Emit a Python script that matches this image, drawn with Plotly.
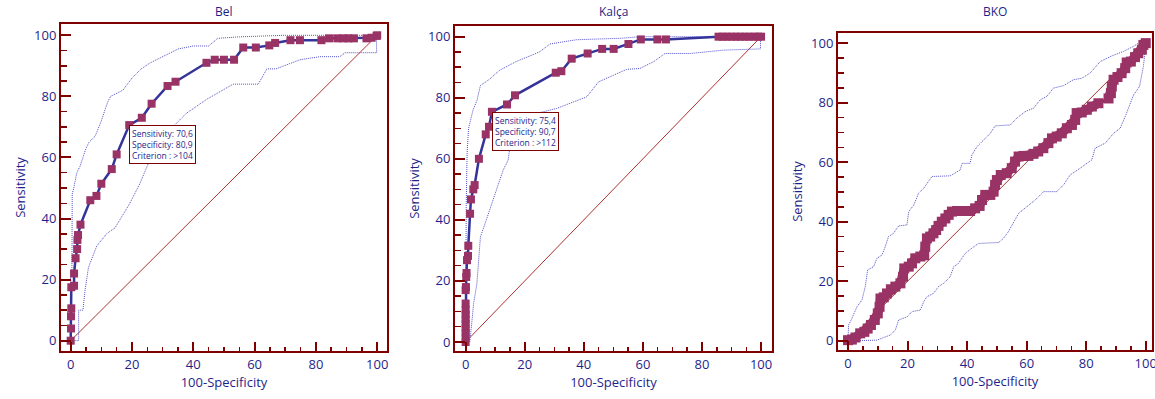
import plotly.graph_objects as go

# ---------------- data ----------------
titles = ["Bel", "Kalça", "BKO"]
diag_x = [0, 100]
diag_y = [0, 100]

bel_fpr = [0, 0.1, 0.1, 0.2, 0.2, 1.1, 1.1, 1.6, 2.1, 2.2, 2.4, 3.2, 6.4, 8.4, 10, 13.4, 15, 19.1,
           23.2, 26.4, 31.6, 34.2, 44.3, 47, 50, 53.3, 56.3, 60.4, 64.8, 66.7, 71.7, 74.8, 81.8,
           84.3, 87, 89, 90.6, 92.4, 96.5, 98.2, 99.8, 100]
bel_tpr = [0, 4, 8, 10.6, 17.5, 18, 22, 27, 30, 33, 34.6, 38, 46, 47.4, 51.4, 56.2, 61, 70.6,
           73, 77.6, 83.4, 84.8, 91, 92, 92, 92, 96, 96, 96.7, 97.5, 98.4, 98.4, 98.4,
           99, 99, 99, 99, 99, 99, 99.2, 99.8, 100]
bel_up_x = [0, 0, 0.4, 0.5, 1, 2, 3, 4, 5, 6, 8, 10, 12, 13, 15, 17, 20, 23, 26, 30, 35, 40, 45,
            48, 55, 70, 100]
bel_up_y = [0, 23, 23, 48, 50, 55, 57, 60, 63, 65, 67, 72, 78, 80, 81, 82, 86, 89, 91, 93, 95.5,
            96.5, 96.5, 99, 99.5, 100, 100]
bel_lo_x = [0, 2.6, 2.6, 4, 4.7, 5.8, 8.5, 11.7, 14.5, 19.3, 22.6, 25.3, 28, 31.3, 37.8, 44.3, 53,
            61.2, 64, 67, 74.8, 81.3, 87.8, 89.5, 99.8, 99.8, 100]
bel_lo_y = [0, 0, 10, 10, 16.6, 24, 31, 35, 37, 45, 51.5, 58, 63.5, 68, 74.5, 79, 84,
            84, 89, 89, 92, 93, 93, 94.3, 94.3, 100, 100]
bel_box = (19.1, 70.6, "Sensitivity: 70,6<br>Specificity: 80,9<br>Criterion : >104")

kal_fpr = [0, 0, 0, 0, 0, 0, 0, 0, 0, 0, 0.1, 0.2, 0.3, 0.45, 0.8, 0.9, 1.5, 1.8, 2.6, 3.05, 4.5,
           6.8, 7.9, 8.9, 14, 16.7, 30.5, 32.4, 35.9, 41.3, 46.2, 50.1, 55.1, 59.3, 64.9, 67.8,
           85.6, 87, 88.5, 90, 91.5, 93, 94.5, 96, 97.5, 99, 100]
kal_tpr = [0, 1.5, 3, 4.5, 6, 7.5, 9, 10.5, 12.6, 17, 18, 21.3, 22.6, 26.8, 28.2, 31.5, 42, 46.7,
           50, 51.4, 60, 68, 70.5, 75.4, 77.8, 80.8, 88.2, 88.7, 92.8, 94.5, 96, 96, 97.6,
           99.1, 99.1, 99.1, 100, 100, 100, 100, 100, 100, 100, 100, 100, 100, 100]
kal_up_x = [0, 0, 0.2, 0.5, 1, 2.5, 3.8, 5, 8, 11.5, 17, 25, 28.5, 37.5, 53, 59, 100]
kal_up_y = [0, 20, 45, 62, 70, 76, 79, 84, 86, 89, 91.8, 95, 97.6, 99, 99.5, 100, 100]
kal_lo_x = [0, 1.4, 2, 2.7, 3.8, 5, 7, 10.4, 12.7, 14.4, 15, 17, 19.5, 30.8, 36.4, 41, 45, 50, 54.5,
            59, 63.6, 67.5, 76, 87.3, 99.8, 99.8, 100]
kal_lo_y = [0, 0, 5.5, 12.6, 19, 34.4, 40, 49.7, 56.3, 59.6, 64, 70, 73.8, 76.5, 78.7, 80.3, 85.2,
            87.4, 89.3, 89.6, 91.8, 94.5, 94.5, 95.6, 96, 100, 100]
kal_box = (8.9, 75.4, "Sensitivity: 75,4<br>Specificity: 90,7<br>Criterion : >112")

bko_fpr = [0, 1.3, 2.5, 4.1, 5.5, 6.6, 7.7, 9, 10, 10.6, 10.9, 12, 13.1, 14.4, 15.9, 17.6, 18.5,
           18.9, 20.4, 21.5, 22.6, 24.3, 25.6, 25.95, 26.5, 27.6, 28.7, 29.6, 30.4, 31.5, 32.7,
           33.8, 34.9, 36.6, 38.8, 41, 42.7, 44.2, 45, 46.1, 47.8, 48.9, 49.4, 50, 51.3, 53.3,
           55, 56.1, 57.3, 58.9, 60.6, 62.3, 63.9, 65.6, 67.3, 68.5, 70.1, 71.8, 73.5, 75.2,
           76.3, 76.8, 78.5, 80.2, 81.9, 84.1]
bko_tpr = [0.2, 0.4, 1.1, 2.5, 3, 4.1, 5.3, 7, 9.2, 11.4, 14.2, 14.6, 15.9, 17.3, 18.2, 19.3, 21.5,
           24.3, 24.9, 26, 27.7, 28.3, 28.7, 31.6, 34.4, 35, 36.1, 37.2, 38.6, 40, 41.1,
           42.3, 43.4, 43.6, 43.6, 43.6, 44.5, 45.3, 47.3, 49, 49, 50.1, 52.4, 54, 55.7, 56.3,
           58, 60.2, 61.9, 62.1, 62.1, 62.8, 63.6, 64.7, 66.4, 68, 68.6, 69.7, 71.4, 72.5,
           74.2, 76.5, 76.7, 77.6, 78.7, 79.8]
bko_fpr2 = [87.5, 88.3, 88.6, 89.2, 90.5, 91.9, 93.1, 93.6, 95, 96.4, 97.5, 98.7, 99.2, 100]
bko_tpr2 = [81.4, 83.2, 85.4, 87.7, 88.6, 89.9, 91.6, 93.5, 93.8, 95.3, 96.6, 97.8, 99.4, 100]
bko_up_x = [0, 0.2, 1.3, 3, 4.7, 5.8, 6.6, 8.6, 9.7, 11.4, 12.5, 13.6, 15.3, 17, 19.8, 20.4, 22.1,
            23.7, 25.4, 28.2, 34.3, 37.7, 38.3, 41, 41.6, 43.3, 45, 47.8, 49.4, 54.5, 56.7,
            59.5, 62.3, 64.5, 66.8, 69, 72.4, 75.7, 78.5, 81.3, 84.7, 88.6, 92.5, 95.9, 97.5]
bko_up_y = [0, 5.3, 7.5, 11.4, 13.7, 18.2, 23.8, 24.9, 27.7, 28.8, 31.6, 35, 36.1, 38.6, 38.9, 43.4,
            45.6, 49.6, 51.2, 55.2, 55.4, 57.4, 59.6, 59.6, 62.4, 65.2, 66.9, 69.7, 72.2, 72.5,
            74.8, 77, 78.1, 80.9, 82.1, 84.9, 85.7, 87.7, 88.2, 89.9, 93.8, 95.7, 97.2, 98.9, 100]
bko_lo_x = [0, 5.3, 9.7, 12, 14.2, 15.9, 17, 19.8, 21.5, 24.3, 25.4, 26.5, 28.7, 30.4, 32.1, 34.3,
            35.5, 37.1, 39.4, 41.6, 43.8, 50.6, 52.2, 53.9, 55.6, 57.3, 60.1, 62.9, 65.7, 70.1,
            72.4, 74.6, 78, 81.9, 83, 86.4, 89.2, 91.4, 93.1, 94.7, 95.9, 97.9, 99.2, 100]
bko_lo_y = [0, 0, 0.2, 1.1, 1.9, 3.6, 7, 8, 9.8, 10.3, 13.1, 14.8, 15.9, 18.2, 19.3, 21.5,
            24.9, 26, 29.4, 31.1, 32.7, 33, 34.4, 36.7, 40, 42.8, 45.1, 47.3, 50.1, 50.1,
            52.4, 55.7, 58, 60.8, 64.7, 66.4, 69.7, 71.4, 75.3, 79.8, 82.6, 85.4, 92.2, 98.9]

x_ticks = [0, 20, 40, 60, 80, 100]

# ---------------- style ----------------
NAVY = "#1f1f8a"
DARKRED = "#800000"
PLUM = "#993366"
LINE = "#333399"
CI = "#5050c8"
DIAG = "#b03030"
FONT = "Open Sans"

domains = [
    dict(x=[61 / 1155, 387 / 1155], y=[1 - 351 / 399, 1 - 24 / 399], xr=[-3.16, 103.2], yr=[-3.37, 103.7]),
    dict(x=[455 / 1155, 772 / 1155], y=[1 - 351 / 399, 1 - 26 / 399], xr=[-3.6, 103.7], yr=[-2.95, 103.5]),
    dict(x=[838 / 1155, 1152 / 1155], y=[1 - 350 / 399, 1 - 33 / 399], xr=[-3.36, 102.1], yr=[-3.1, 103.4]),
]

fig = go.Figure()
layout = dict(width=1155, height=399, margin=dict(l=0, r=0, t=0, b=0, autoexpand=False),
              paper_bgcolor="white", plot_bgcolor="white", showlegend=False, hovermode=False,
              font=dict(family=FONT, color=NAVY))
annotations = []
shapes = []

panels = [
    (bel_fpr, bel_tpr, None, None, bel_up_x, bel_up_y, bel_lo_x, bel_lo_y, bel_box),
    (kal_fpr, kal_tpr, None, None, kal_up_x, kal_up_y, kal_lo_x, kal_lo_y, kal_box),
    (bko_fpr, bko_tpr, bko_fpr2, bko_tpr2, bko_up_x, bko_up_y, bko_lo_x, bko_lo_y, None),
]

for i, (fx, ty, fx2, ty2, ux, uy, lx, ly, box) in enumerate(panels):
    n = "" if i == 0 else str(i + 1)
    xa, ya = "x" + n, "y" + n
    d = domains[i]
    common = dict(showgrid=False, zeroline=False, showline=True, linecolor=DARKRED, linewidth=2,
                  mirror=True, ticks="inside", tickcolor=DARKRED, tickwidth=2, automargin=False,
                  tickfont=dict(family=FONT, size=13, color=NAVY), ticklabeloverflow="allow",
                  tickvals=x_ticks)
    layout["xaxis" + n] = dict(common, domain=d["x"], range=d["xr"], ticklen=9, anchor=ya,
                               minor=dict(ticks="inside", dtick=5, ticklen=4, tickcolor=DARKRED,
                                          tickwidth=1.5, showgrid=False),
                               title=dict(text="100-Specificity", font=dict(size=13, color=NAVY), standoff=4))
    layout["yaxis" + n] = dict(common, domain=d["y"], range=d["yr"], ticklen=10, anchor=xa,
                               minor=dict(ticks="inside", dtick=5, ticklen=6, tickcolor=DARKRED,
                                          tickwidth=1.5, showgrid=False),
                               title=dict(text="Sensitivity", font=dict(size=13, color=NAVY), standoff=6))
    annotations.append(dict(text=titles[i], xref=xa + " domain", yref="paper",
                            x=0.5, y=1 - 11 / 399, showarrow=False, xanchor="center", yanchor="middle",
                            font=dict(family=FONT, size=12, color=NAVY)))
    # diagonal reference line (as a shape in data coordinates)
    shapes.append(dict(type="line", xref=xa, yref=ya, x0=diag_x[0], y0=diag_y[0],
                       x1=diag_x[1], y1=diag_y[1], layer="below",
                       line=dict(color=DIAG, width=1)))
    # confidence bands
    fig.add_trace(go.Scatter(x=ux, y=uy, mode="lines", xaxis=xa, yaxis=ya,
                             line=dict(color=CI, width=1, dash="1px,1px")))
    fig.add_trace(go.Scatter(x=lx, y=ly, mode="lines", xaxis=xa, yaxis=ya,
                             line=dict(color=CI, width=1, dash="1px,1px")))
    allx = list(fx) + (list(fx2) if fx2 else [])
    ally = list(ty) + (list(ty2) if ty2 else [])
    fig.add_trace(go.Scatter(x=allx, y=ally, mode="lines", xaxis=xa, yaxis=ya,
                             line=dict(color=LINE, width=2.5)))
    if fx2:
        for sx, sy in [(fx, ty), (fx2, ty2)]:
            fig.add_trace(go.Scatter(x=sx, y=sy, mode="lines+markers", xaxis=xa, yaxis=ya,
                                     line=dict(color=PLUM, width=9),
                                     marker=dict(symbol="square", size=10, color=PLUM)))
    else:
        fig.add_trace(go.Scatter(x=fx, y=ty, mode="markers", xaxis=xa, yaxis=ya,
                                 marker=dict(symbol="square", size=8, color=PLUM)))
    if box:
        annotations.append(dict(text=box[2], x=box[0], y=box[1], xref=xa, yref=ya, showarrow=False,
                                xanchor="left", yanchor="top", align="left",
                                bgcolor="white", bordercolor=DARKRED, borderwidth=1, borderpad=2,
                                font=dict(family=FONT, size=8.5, color=NAVY)))

layout["annotations"] = annotations
layout["shapes"] = shapes
fig.update_layout(**layout)
fig.write_html("out.html", config={"displayModeBar": False, "staticPlot": True},
               post_script="document.body.style.margin='0px';")
